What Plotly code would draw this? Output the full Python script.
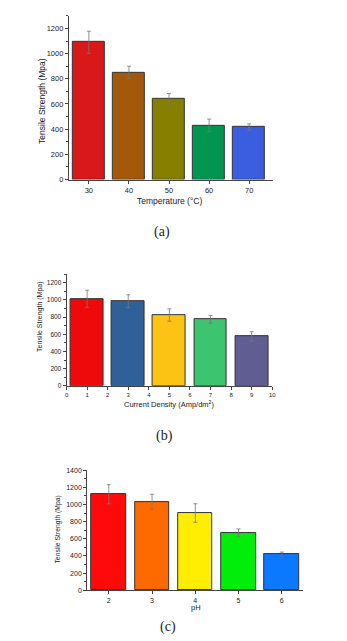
import plotly.graph_objects as go

# Panel (a): temperature
temp = [30, 40, 50, 60, 70]
temp_ts = [1090, 850, 638, 430, 417]
temp_err = [88, 50, 45, 50, 25]
temp_colors = ["#d9181a", "#a3580a", "#858000", "#009652", "#3b5ddf"]

# Panel (b): current density
cd = [1, 3, 5, 7, 9]
cd_ts = [1013, 985, 824, 774, 575]
cd_err = [100, 75, 72, 45, 55]
cd_colors = ["#ee0a0a", "#2f6097", "#fcc214", "#3cc46e", "#5f5d92"]
cd_ticks = [0, 1, 2, 3, 4, 5, 6, 7, 8, 9, 10]

# Panel (c): pH
ph = [2, 3, 4, 5, 6]
ph_ts = [1118, 1030, 900, 670, 418]
ph_err = [112, 88, 108, 45, 28]
ph_colors = ["#ff0a0a", "#ff6a00", "#ffee00", "#00ee0a", "#0a78ff"]

W, H = 347, 641
def px(x):
    return x / W
def py(y):
    return 1 - y / H

FONT = "Liberation Sans, Arial, sans-serif"
SERIF = "Liberation Serif, Times New Roman, serif"

fig = go.Figure()

def add_bars(x, y, err, colors, width, xa, ya):
    fig.add_trace(go.Bar(
        x=x, y=y, width=width, xaxis=xa, yaxis=ya,
        marker=dict(color=colors, line=dict(color="#333333", width=1)),
        error_y=dict(type="data", array=err, visible=True, color="#777777",
                     thickness=0.8, width=2),
        showlegend=False,
    ))

add_bars(temp, temp_ts, temp_err, temp_colors, 8, "x", "y")
add_bars(cd, cd_ts, cd_err, cd_colors, 1.6, "x2", "y2")
add_bars(ph, ph_ts, ph_err, ph_colors, 0.8, "x3", "y3")

def xax(domain, anchor, rng, tickvals, size):
    return dict(domain=domain, anchor=anchor, range=rng, tickvals=tickvals,
                showline=True, linecolor="#444444", linewidth=1,
                ticks="outside", ticklen=3, tickcolor="#444444",
                showgrid=False, zeroline=False,
                tickfont=dict(family=FONT, size=size, color="#222222"))

def yax(domain, anchor, rng, dtick, size):
    return dict(domain=domain, anchor=anchor, range=rng, dtick=dtick,
                showline=True, linecolor="#444444", linewidth=1,
                ticks="outside", ticklen=3, tickcolor="#444444",
                minor=dict(ticks="outside", dtick=dtick / 2, ticklen=2,
                           tickcolor="#444444"),
                showgrid=False, zeroline=False,
                tickfont=dict(family=FONT, size=size, color="#222222"))

fig.update_layout(
    width=W, height=H, margin=dict(l=0, r=0, t=0, b=0),
    paper_bgcolor="white", plot_bgcolor="white",
    bargap=0,
    xaxis=xax([px(68), px(276)], "y", [25, 76], temp, 7.5),
    yaxis=yax([py(178), py(12)], "x", [0, 1300], 200, 7.5),
    xaxis2=xax([px(65.7), px(275)], "y2", [0, 10], cd_ticks, 6),
    yaxis2=yax([py(387.3), py(274)], "x2", [0, 1300], 200, 6.5),
    xaxis3=xax([px(86.7), px(306.7)], "y3", [1.5, 6.5], ph, 7),
    yaxis3=yax([py(594.7), py(472.7)], "x3", [0, 1400], 200, 7),
)

def label(text, x, y, size, angle=0, family=FONT):
    fig.add_annotation(text=text, x=px(x), y=py(y), xref="paper", yref="paper",
                       showarrow=False, textangle=angle, xanchor="center",
                       yanchor="middle",
                       font=dict(family=family, size=size, color="#222222"))

label("Tensile Strength (Mpa)", 40, 98, 8.5, -90)
label("Temperature (°C)", 170, 200, 8.5)
label("(a)", 163, 231, 14, family=SERIF)

label("Tensile Strength (Mpa)", 38, 317, 7, -90)
label("Current Density (Amp/dm<sup>2</sup>)", 170, 406, 7.5)
label("(b)", 165, 438, 14, family=SERIF)

label("Tensile Strength (Mpa)", 57, 533, 6.8, -90)
label("pH", 197, 612, 7.5)
label("(c)", 169, 632, 14, family=SERIF)

fig.write_html("out.html")
